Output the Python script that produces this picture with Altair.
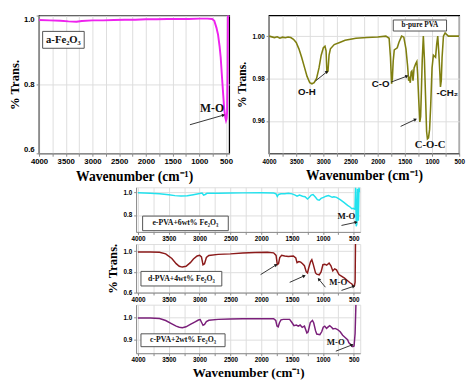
import math
import altair as alt
import pandas as pd

# ---------------- data (wavenumber, transmittance) ----------------
A_WN = [4000, 3800, 3600, 3450, 3300, 3200, 3000, 2800, 2600, 2400, 2200, 2000, 1800, 1600, 1400,
        1200, 1000, 850, 760, 720, 680, 650, 620, 600, 575, 553, 535, 515, 500, 490, 480, 470, 465, 445]
A_T = [0.987, 0.986, 0.985, 0.983, 0.982, 0.984, 0.986, 0.986, 0.987, 0.988, 0.988, 0.989, 0.989, 0.990, 0.990,
       0.990, 0.991, 0.991, 0.990, 0.985, 0.965, 0.945, 0.910, 0.879, 0.820, 0.770, 0.730, 0.705, 0.695, 0.700,
       0.720, 0.850, 1.000, 1.000]

B_WN = [4000, 3900, 3850, 3800, 3750, 3700, 3650, 3600, 3550, 3500, 3450, 3400, 3350, 3300, 3250, 3210, 3170,
        3125, 3080, 3040, 3000, 2970, 2950, 2935, 2915, 2895, 2870, 2800, 2700, 2600, 2400, 2200, 2000, 1850,
        1790, 1765, 1745, 1730, 1715, 1695, 1640, 1610, 1560, 1520, 1480, 1450, 1430, 1415, 1400, 1385, 1370,
        1350, 1330, 1300, 1280, 1265, 1245, 1225, 1210, 1195, 1180, 1160, 1140, 1120, 1100, 1085, 1065, 1045,
        1025, 1000, 975, 955, 935, 915, 895, 875, 855, 845, 830, 815, 790, 760, 740, 700, 600, 500]
B_T = [1.000, 0.9993, 0.9997, 0.9990, 0.9995, 0.9992, 0.9996, 0.9993, 0.9985, 0.997, 0.994, 0.990, 0.9855, 0.981,
       0.978, 0.9775, 0.978, 0.980, 0.985, 0.991, 0.9945, 0.9952, 0.993, 0.983, 0.9835, 0.991, 0.994, 0.996,
       0.997, 0.998, 0.999, 0.9993, 0.9996, 1.000, 0.999, 0.990, 0.9775, 0.980, 0.988, 0.9935, 0.9945, 0.997,
       1.000, 0.9995, 0.994, 0.986, 0.979, 0.980, 0.978, 0.983, 0.9835, 0.979, 0.985, 0.987, 0.988, 0.982,
       0.970, 0.9595, 0.962, 0.975, 0.989, 1.000, 0.989, 0.972, 0.955, 0.9515, 0.952, 0.956, 0.967, 0.985,
       0.991, 0.9905, 0.990, 0.996, 1.000, 0.992, 0.982, 0.976, 0.979, 0.990, 1.000, 1.0015, 1.001, 1.000,
       1.000, 1.000]

E_WN = [4000, 3800, 3650, 3500, 3400, 3300, 3200, 3100, 3000, 2960, 2935, 2910, 2880, 2700, 2500, 2300, 2000,
        1800, 1760, 1740, 1720, 1680, 1620, 1560, 1500, 1450, 1420, 1380, 1330, 1290, 1250, 1220, 1190, 1160,
        1120, 1090, 1060, 1030, 990, 950, 910, 880, 850, 820, 780, 720, 660, 600, 560, 530, 510, 480, 470, 460,
        450, 440, 425, 415, 405]
E_T = [0.995, 0.990, 0.987, 0.978, 0.970, 0.966, 0.969, 0.978, 0.988, 0.992, 0.975, 0.980, 0.990, 0.990, 0.993,
       0.994, 0.995, 0.993, 0.985, 0.962, 0.980, 0.986, 0.987, 0.990, 0.985, 0.974, 0.965, 0.975, 0.965, 0.960,
       0.940, 0.955, 0.975, 0.980, 0.955, 0.935, 0.930, 0.945, 0.955, 0.965, 0.970, 0.963, 0.955, 0.960, 0.955,
       0.935, 0.910, 0.885, 0.870, 0.855, 0.858, 0.850, 1.040, 0.700, 0.720, 1.030, 0.750, 1.040, 1.000]

D_WN = [4000, 3800, 3650, 3550, 3450, 3380, 3330, 3280, 3220, 3150, 3100, 3040, 3000, 2970, 2945, 2920, 2890,
        2850, 2700, 2500, 2300, 2100, 1900, 1800, 1760, 1740, 1720, 1700, 1670, 1620, 1560, 1480, 1440, 1420,
        1390, 1360, 1330, 1300, 1270, 1250, 1230, 1200, 1180, 1160, 1120, 1100, 1060, 1030, 1000, 970, 940,
        900, 870, 840, 810, 780, 740, 700, 650, 600, 560, 530, 505, 490, 478, 472]
D_T = [0.993, 0.993, 0.990, 0.975, 0.930, 0.880, 0.855, 0.847, 0.855, 0.890, 0.925, 0.955, 0.962, 0.945, 0.870,
       0.880, 0.940, 0.960, 0.970, 0.975, 0.983, 0.988, 0.990, 0.985, 0.960, 0.870, 0.880, 0.940, 0.962, 0.955,
       0.950, 0.955, 0.935, 0.890, 0.900, 0.895, 0.880, 0.860, 0.800, 0.790, 0.840, 0.900, 0.918, 0.880, 0.790,
       0.778, 0.772, 0.800, 0.870, 0.875, 0.865, 0.885, 0.860, 0.810, 0.830, 0.820, 0.775, 0.760, 0.740, 0.715,
       0.695, 0.683, 0.662, 0.665, 0.700, 1.070]

C_WN = [4000, 3800, 3650, 3550, 3450, 3380, 3330, 3280, 3220, 3150, 3080, 3020, 2990, 2965, 2945, 2920, 2890,
        2850, 2700, 2500, 2300, 2000, 1800, 1765, 1745, 1725, 1705, 1680, 1640, 1580, 1540, 1500, 1470, 1430,
        1400, 1370, 1336, 1300, 1260, 1240, 1205, 1170, 1150, 1120, 1100, 1050, 1020, 995, 970, 942, 910, 890,
        860, 837, 800, 763, 720, 680, 640, 600, 579, 540, 515, 495, 478, 465]
C_T = [0.996, 0.996, 0.994, 0.985, 0.970, 0.960, 0.955, 0.953, 0.957, 0.968, 0.978, 0.987, 0.989, 0.975, 0.964,
       0.968, 0.980, 0.986, 0.990, 0.992, 0.993, 0.993, 0.993, 0.985, 0.960, 0.957, 0.975, 0.988, 0.990, 0.990,
       0.990, 0.975, 0.962, 0.965, 0.960, 0.965, 0.955, 0.960, 0.930, 0.935, 0.976, 0.985, 0.975, 0.940, 0.925,
       0.922, 0.935, 0.955, 0.960, 0.950, 0.958, 0.962, 0.955, 0.948, 0.950, 0.945, 0.935, 0.920, 0.910, 0.900,
       0.886, 0.875, 0.869, 0.872, 0.928, 1.055]

# annotation boxes: (wn_left, wn_right, t_top, t_bottom)
A_BOX = [(3933, 3155, 0.954, 0.905)]
B_BOX = [(1713, 733, 1.0076, 1.0024)]
E_BOX = [(3924, 2535, 0.790, 0.662)]
D_BOX = [(3951, 2640, 0.805, 0.664)]
C_BOX = [(3951, 2587, 0.926, 0.869)]

# texts: (label, wn, t, font, size)
A_TEXT = [("a-Fe₂O₃", 3544, 0.929, "serif", 11), ("M-O", 763, 0.730, "serif", 12)]
B_TEXT = [("b-pure PVA", 1223, 1.005, "serif", 7.5), ("O-H", 3305, 0.9737, "sans", 10),
          ("C-O", 1946, 0.9772, "sans", 10), ("-CH₂", 720, 0.9732, "sans", 10),
          ("C-O-C", 1036, 0.9486, "serif", 11)]
E_TEXT = [("e-PVA+6wt% Fe₂O₃", 3230, 0.726, "serif", 8), ("M-O", 620, 0.793, "serif", 9)]
D_TEXT = [("d-PVA+4wt% Fe₂O₃", 3296, 0.735, "serif", 8), ("M-O", 752, 0.700, "serif", 9)]
C_TEXT = [("c-PVA+2wt% Fe₂O₃", 3269, 0.897, "serif", 8), ("M-O", 791, 0.891, "serif", 9)]

# arrows: (wn_start, t_start, wn_end, t_end)
A_ARROWS = [(1176, 0.683, 547, 0.711)]
B_ARROWS = [(3142, 0.9789, 2933, 0.9832), (1753, 0.9783, 1463, 0.9811), (1578, 0.9574, 1305, 0.9607)]
E_ARROWS = [(699, 0.708, 462, 0.736)]
D_ARROWS = [(699, 0.621, 500, 0.661), (2011, 0.774, 1759, 0.868), (1539, 0.699, 1303, 0.762),
            (960, 0.652, 1067, 0.730)]
C_ARROWS = [(791, 0.849, 528, 0.877)]

SERIF = "Liberation Serif"
SANS = "Liberation Sans"
XTICKS = list(range(500, 4001, 250))


def panel(wn, t, color, lw, xdom, ydom, w, h, yvals, yfmt, tick_fs, xtitle, ytitle,
          boxes, texts, arrows, frame, xtick, xlpad, xtpad, ytpad, ytitle_fs=13, yflush=False,
          xtitle_fs=14):
    xsc = alt.Scale(domain=xdom, reverse=True, nice=False, zero=False)
    ysc = alt.Scale(domain=ydom, nice=False, zero=False)
    xkw = dict(values=XTICKS, labelExpr="datum.value % 500 == 0 ? datum.label : ''", format="d",
               labelFontSize=tick_fs, tickSize=xtick, labelPadding=xlpad, labelFlush=False,
               labelFont=SANS, labelFontWeight="bold",
               titleFont=SERIF, titleFontWeight="bold", titleFontSize=xtitle_fs, titlePadding=xtpad)
    xax = alt.Axis(title="Wavenumber (cm⁻¹)", **xkw) if xtitle else alt.Axis(title=None, **xkw)
    ykw = dict(values=yvals, format=yfmt, labelFontSize=tick_fs, tickSize=xtick, labelPadding=2,
               labelFont=SANS, labelFontWeight="bold", labelFlush=yflush,
               titleFont=SERIF, titleFontWeight="bold", titleFontSize=ytitle_fs, titlePadding=ytpad)
    yax = alt.Axis(title="% Trans.", **ykw) if ytitle else alt.Axis(title=None, **ykw)
    X = alt.X("wn:Q", scale=xsc, axis=xax)
    Y = alt.Y("v:Q", scale=ysc, axis=yax)

    cdf = pd.DataFrame({"wn": wn, "v": t, "i": list(range(len(wn)))})
    layers = [alt.Chart(cdf).mark_line(color=color, strokeWidth=lw, clip=True).encode(
        x=X, y=Y, order=alt.Order("i:Q"))]

    bdf = pd.DataFrame({"wn": [b[0] for b in boxes], "wn2": [b[1] for b in boxes],
                        "v": [b[2] for b in boxes], "v2": [b[3] for b in boxes]})
    layers.append(alt.Chart(bdf).mark_rect(fill="white", stroke="#505050", strokeWidth=1).encode(
        x=X, x2="wn2:Q", y=Y, y2="v2:Q"))

    pxu = w / (xdom[1] - xdom[0])
    pyu = h / (ydom[1] - ydom[0])
    adf = pd.DataFrame({"wn": [a[0] for a in arrows], "v": [a[1] for a in arrows],
                        "wn2": [a[2] for a in arrows], "v2": [a[3] for a in arrows]})
    layers.append(alt.Chart(adf).mark_rule(color="#1a1a1a", strokeWidth=0.9).encode(
        x=X, y=Y, x2="wn2:Q", y2="v2:Q"))
    angs = []
    for a in arrows:
        dx = (a[0] - a[2]) * pxu
        dy = -(a[3] - a[1]) * pyu
        angs.append(math.degrees(math.atan2(dx, -dy)) % 360)
    hdf = pd.DataFrame({"wn": [a[2] for a in arrows], "v": [a[3] for a in arrows], "ang": angs})
    layers.append(alt.Chart(hdf).mark_point(shape="triangle-up", filled=True, size=14,
                                            color="#1a1a1a", opacity=1).encode(
        x=X, y=Y, angle=alt.Angle("ang:Q", scale=None)))

    for (lab, x0, y0, fnt, fs) in texts:
        tdf = pd.DataFrame({"wn": [x0], "v": [y0], "lab": [lab]})
        layers.append(alt.Chart(tdf).mark_text(font=SERIF if fnt == "serif" else SANS, fontSize=fs,
                                               fontWeight="bold", color="#111").encode(
            x=X, y=Y, text="lab:N"))

    ch = alt.layer(*layers).properties(width=w, height=h)
    if frame:
        ch = ch.properties(view=alt.ViewBackground(stroke="black", strokeWidth=1.3))
    return ch


pa = panel(A_WN, A_T, "#EE22EE", 2, [440, 4000], [0.6, 1.0], 196, 142, [0.6, 0.8, 1.0], ".1f", 8,
           True, True, A_BOX, A_TEXT, A_ARROWS, True, 3, 2, 4, 2, 13, True)
pb = panel(B_WN, B_T, "#7F7F10", 1.6, [500, 4000], [0.9447, 1.0097], 196, 142, [0.96, 0.98, 1.00], ".2f",
           6.5, True, True, B_BOX, B_TEXT, B_ARROWS, True, 3, 3, 3, 4, 12)

BX = [395, 4030]
pe = panel(E_WN, E_T, "#22E2EE", 1.5, BX, [0.651, 1.043], 231, 46, [0.8, 1.0], ".1f", 6.5,
           False, False, E_BOX, E_TEXT, E_ARROWS, False, 2.5, 1.5, 2, 4)
pd_ = panel(D_WN, D_T, "#8B1A1A", 1.5, BX, [0.6, 1.07], 231, 50, [0.6, 0.8, 1.0], ".1f", 6.5,
            False, True, D_BOX, D_TEXT, D_ARROWS, False, 2.5, 1.5, 2, 4)
pc = panel(C_WN, C_T, "#7A1F7A", 1.5, BX, [0.84, 1.055], 231, 50, [0.9, 1.0], ".1f", 6.5,
           True, False, C_BOX, C_TEXT, C_ARROWS, False, 2.5, 1.5, 3, 4, xtitle_fs=13.5)

spacer = alt.Chart(pd.DataFrame({"s": [0]})).mark_point(opacity=0).encode(
    x=alt.X("s:Q", axis=None), y=alt.Y("s:Q", axis=None)).properties(
    width=68, height=4, view=alt.ViewBackground(stroke="transparent", strokeWidth=0, fill="transparent"))

top = alt.hconcat(pa, pb, spacing=41, bounds="flush")
inner = alt.vconcat(pe, pd_, pc, spacing=12.5, bounds="flush")
bottom = alt.hconcat(spacer, inner, spacing=0)

chart = alt.vconcat(top, bottom, spacing=2).properties(
    padding={"left": 0, "top": 0, "right": 0, "bottom": 0}
).configure_view(strokeWidth=0).configure_axis(
    domainColor="black", domainWidth=1.3, tickColor="black", tickWidth=1, labelColor="black",
    titleColor="black", labelFont=SANS, labelFontWeight="bold", titleFont=SERIF,
    titleFontWeight="bold", grid=False
).configure(background="white")

chart.save("out.html", embed_options={"renderer": "svg", "actions": False})
